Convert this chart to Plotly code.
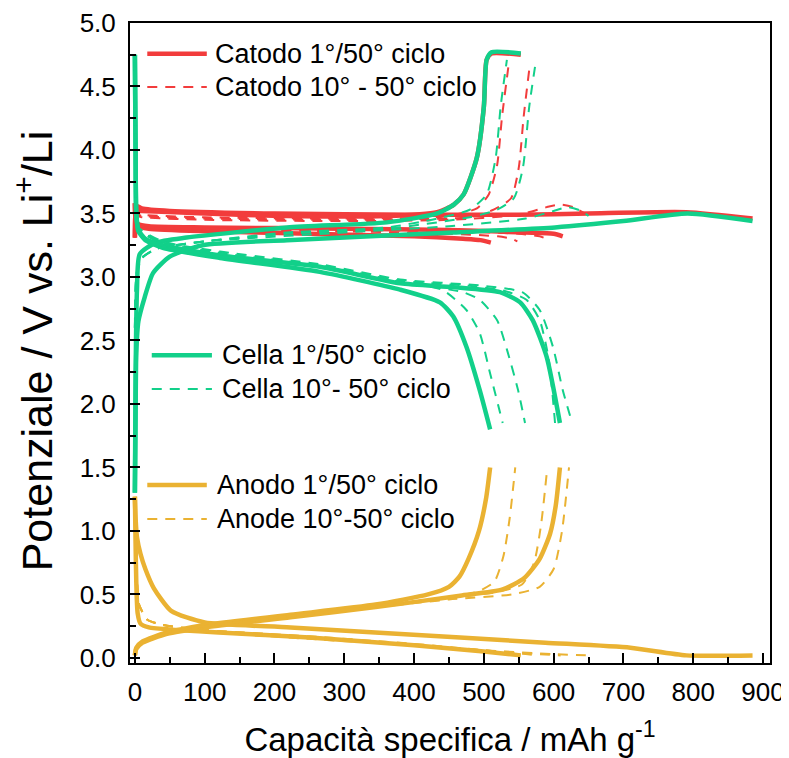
import plotly.graph_objects as go

RED = "#F23C3C"
GREEN = "#12D08A"
GOLD = "#EAB232"

# ---------------- Cathode (Catodo) ----------------
cat_ch1_x = [0, 1, 3, 10, 50, 200, 400, 550, 650, 790, 885]
cat_ch1_y = [3.31, 3.45, 3.56, 3.54, 3.52, 3.50, 3.49, 3.49, 3.50, 3.51, 3.46]
cat_ch50_x = [0, 2, 10, 100, 218, 360, 433, 457, 471, 490, 500, 504, 511, 553]
cat_ch50_y = [3.31, 3.52, 3.52, 3.50, 3.48, 3.48, 3.51, 3.57, 3.65, 3.94, 4.34, 4.71, 4.76, 4.75]
cat_dis1_x = [0, 1, 4, 20, 100, 250, 400, 470, 495, 510]
cat_dis1_y = [3.58, 3.45, 3.40, 3.38, 3.36, 3.34, 3.32, 3.30, 3.29, 3.27]
cat_dis2_x = [0, 1, 4, 20, 100, 300, 450, 560, 600, 613]
cat_dis2_y = [3.58, 3.46, 3.42, 3.40, 3.39, 3.38, 3.37, 3.35, 3.34, 3.32]

cat_dch_a_x = [0, 2, 10, 100, 300, 433, 457, 490, 507, 519, 526, 535]
cat_dch_a_y = [3.31, 3.50, 3.49, 3.47, 3.46, 3.47, 3.49, 3.54, 3.65, 3.88, 4.26, 4.65]
cat_dch_b_x = [0, 2, 10, 100, 300, 450, 480, 514, 539, 550, 557, 565]
cat_dch_b_y = [3.31, 3.49, 3.48, 3.46, 3.45, 3.46, 3.47, 3.53, 3.62, 3.86, 4.26, 4.63]
cat_dch_c_x = [0, 2, 10, 100, 300, 450, 550, 590, 610, 628, 645]
cat_dch_c_y = [3.31, 3.48, 3.47, 3.45, 3.44, 3.45, 3.49, 3.55, 3.57, 3.55, 3.50]
cat_ddis_a_x = [0, 1, 4, 20, 100, 300, 450, 520, 540, 548]
cat_ddis_a_y = [3.55, 3.45, 3.41, 3.39, 3.37, 3.36, 3.34, 3.32, 3.30, 3.28]
cat_ddis_b_x = [0, 1, 4, 20, 100, 300, 450, 550, 580, 590]
cat_ddis_b_y = [3.55, 3.45, 3.42, 3.40, 3.38, 3.37, 3.36, 3.34, 3.32, 3.30]

# ---------------- Cell (Cella) ----------------
cell_ch1_x = [0, 1, 2, 5, 14, 26, 50, 97, 218, 456, 602, 700, 792, 885]
cell_ch1_y = [1.30, 1.9, 2.4, 2.65, 2.84, 3.03, 3.16, 3.25, 3.29, 3.35, 3.39, 3.44, 3.50, 3.44]
cell_ch50_x = [0, 1, 3, 7, 30, 74, 218, 361, 433, 457, 471, 490, 500, 504, 511, 553]
cell_ch50_y = [1.30, 2.2, 2.9, 3.18, 3.27, 3.31, 3.39, 3.43, 3.50, 3.57, 3.65, 3.94, 4.34, 4.71, 4.77, 4.76]
cell_dis1_x = [0, 1, 2, 5, 15, 40, 122, 265, 380, 437, 456, 475, 494, 509]
cell_dis1_y = [4.75, 4.0, 3.5, 3.36, 3.29, 3.23, 3.15, 3.04, 2.90, 2.80, 2.69, 2.45, 2.11, 1.80]
cell_dis2_x = [0, 1, 2, 5, 15, 40, 122, 265, 380, 456, 523, 552, 570, 590, 609]
cell_dis2_y = [4.75, 4.0, 3.5, 3.37, 3.30, 3.25, 3.17, 3.08, 2.95, 2.92, 2.88, 2.80, 2.66, 2.37, 1.85]

cell_dch_a_x = [0, 2, 5, 10, 30, 100, 218, 361, 433, 480, 504, 517, 524, 533]
cell_dch_a_y = [2.6, 3.0, 3.1, 3.15, 3.22, 3.28, 3.35, 3.39, 3.46, 3.53, 3.65, 3.94, 4.34, 4.71]
cell_dch_b_x = [0, 2, 5, 10, 30, 100, 218, 361, 480, 519, 543, 556, 565, 574]
cell_dch_b_y = [2.6, 3.0, 3.1, 3.15, 3.22, 3.28, 3.34, 3.38, 3.47, 3.53, 3.62, 3.86, 4.34, 4.68]
cell_dch_c_x = [0, 2, 10, 30, 100, 300, 450, 560, 600, 620, 640, 650]
cell_dch_c_y = [2.6, 3.0, 3.15, 3.22, 3.28, 3.35, 3.40, 3.46, 3.52, 3.55, 3.52, 3.48]
cell_ddis_a_x = [0, 1, 2, 5, 40, 122, 265, 380, 440, 475, 494, 509, 527]
cell_ddis_a_y = [4.7, 4.0, 3.5, 3.38, 3.26, 3.18, 3.08, 2.96, 2.90, 2.74, 2.56, 2.24, 1.85]
cell_ddis_b_x = [0, 1, 2, 5, 40, 122, 265, 380, 470, 494, 519, 533, 549, 559]
cell_ddis_b_y = [4.7, 4.0, 3.5, 3.38, 3.26, 3.18, 3.08, 2.96, 2.88, 2.82, 2.66, 2.43, 2.11, 1.85]
cell_ddis_c_x = [0, 1, 2, 5, 40, 122, 265, 380, 480, 530, 561, 580, 593, 602]
cell_ddis_c_y = [4.7, 4.0, 3.5, 3.38, 3.27, 3.19, 3.09, 2.97, 2.93, 2.89, 2.82, 2.66, 2.35, 1.85]
cell_ddis_d_x = [0, 1, 2, 5, 40, 122, 265, 380, 500, 555, 580, 599, 613, 626]
cell_ddis_d_y = [4.7, 4.0, 3.5, 3.39, 3.28, 3.20, 3.10, 2.98, 2.93, 2.88, 2.74, 2.45, 2.11, 1.86]

# ---------------- Anode (Anodo) ----------------
an_li1_x = [0, 1, 3, 8, 15, 27, 52, 100, 223, 466, 588, 710, 790, 885]
an_li1_y = [1.27, 1.1, 0.95, 0.82, 0.70, 0.55, 0.37, 0.28, 0.24, 0.16, 0.12, 0.08, 0.02, 0.02]
an_li50_x = [0, 1, 2, 4, 8, 20, 60, 120, 250, 400, 500, 553]
an_li50_y = [1.27, 0.9, 0.6, 0.35, 0.27, 0.24, 0.22, 0.20, 0.16, 0.10, 0.05, 0.02]
an_de1_x = [0, 2, 11, 46, 100, 223, 345, 420, 450, 465, 478, 493, 503, 509]
an_de1_y = [0.02, 0.08, 0.13, 0.20, 0.26, 0.34, 0.42, 0.50, 0.56, 0.64, 0.78, 1.0, 1.25, 1.5]
an_de2_x = [0, 2, 11, 46, 100, 223, 345, 466, 527, 558, 580, 595, 603, 609]
an_de2_y = [0.02, 0.07, 0.12, 0.19, 0.24, 0.32, 0.40, 0.49, 0.54, 0.63, 0.78, 0.98, 1.2, 1.5]

an_dli_a_x = [0, 3, 6, 18, 40, 100, 250, 400, 500, 560, 580]
an_dli_a_y = [1.0, 0.6, 0.42, 0.30, 0.26, 0.22, 0.17, 0.11, 0.06, 0.03, 0.02]
an_dli_b_x = [0, 3, 6, 18, 40, 100, 250, 400, 500, 580, 610]
an_dli_b_y = [1.0, 0.6, 0.42, 0.30, 0.26, 0.22, 0.16, 0.10, 0.06, 0.03, 0.02]
an_dli_c_x = [0, 3, 6, 18, 40, 100, 250, 400, 500, 600, 650]
an_dli_c_y = [1.0, 0.6, 0.42, 0.30, 0.26, 0.21, 0.15, 0.10, 0.06, 0.03, 0.02]
an_dde_a_x = [0, 2, 11, 46, 100, 223, 345, 450, 490, 515, 528, 537, 545]
an_dde_a_y = [0.03, 0.08, 0.13, 0.20, 0.25, 0.33, 0.41, 0.48, 0.52, 0.60, 0.80, 1.10, 1.50]
an_dde_b_x = [0, 2, 11, 46, 100, 223, 345, 450, 520, 555, 572, 582, 590]
an_dde_b_y = [0.03, 0.08, 0.13, 0.20, 0.25, 0.33, 0.40, 0.47, 0.52, 0.58, 0.75, 1.05, 1.45]
an_dde_c_x = [0, 2, 11, 46, 100, 223, 345, 450, 540, 580, 600, 612, 622]
an_dde_c_y = [0.03, 0.08, 0.13, 0.20, 0.25, 0.33, 0.40, 0.46, 0.50, 0.56, 0.70, 1.00, 1.50]

x_tick_vals = [0, 100, 200, 300, 400, 500, 600, 700, 800, 900]
y_tick_vals = [0.0, 0.5, 1.0, 1.5, 2.0, 2.5, 3.0, 3.5, 4.0, 4.5, 5.0]

legend_labels = [
    ("Catodo 1°/50° ciclo", RED, "solid", 0.027, 0.120, 0.952, 0.130),
    ("Catodo 10° - 50° ciclo", RED, "dash", 0.027, 0.120, 0.900, 0.130),
    ("Cella 1°/50° ciclo", GREEN, "solid", 0.034, 0.128, 0.481, 0.141),
    ("Cella 10°- 50° ciclo", GREEN, "dash", 0.034, 0.128, 0.428, 0.141),
    ("Anodo 1°/50° ciclo", GOLD, "solid", 0.027, 0.120, 0.278, 0.133),
    ("Anode 10°-50° ciclo", GOLD, "dash", 0.027, 0.120, 0.225, 0.133),
]

SOLID_W = 4.5
DASH_W = 2.0
DASH = "10px,8px"

fig = go.Figure()


def add(x, y, color, dashed):
    fig.add_trace(go.Scatter(
        x=x, y=y, mode="lines", showlegend=False, hoverinfo="skip",
        line=dict(color=color, width=DASH_W if dashed else SOLID_W,
                  dash=DASH if dashed else "solid", shape="spline", smoothing=0.6)))


# anode
for xs, ys in [(an_li1_x, an_li1_y), (an_li50_x, an_li50_y), (an_de1_x, an_de1_y), (an_de2_x, an_de2_y)]:
    add(xs, ys, GOLD, False)
for xs, ys in [(an_dli_a_x, an_dli_a_y), (an_dli_b_x, an_dli_b_y), (an_dli_c_x, an_dli_c_y),
               (an_dde_a_x, an_dde_a_y), (an_dde_b_x, an_dde_b_y), (an_dde_c_x, an_dde_c_y)]:
    add(xs, ys, GOLD, True)
# cathode
for xs, ys in [(cat_ch1_x, cat_ch1_y), (cat_ch50_x, cat_ch50_y), (cat_dis1_x, cat_dis1_y), (cat_dis2_x, cat_dis2_y)]:
    add(xs, ys, RED, False)
for xs, ys in [(cat_dch_a_x, cat_dch_a_y), (cat_dch_b_x, cat_dch_b_y), (cat_dch_c_x, cat_dch_c_y),
               (cat_ddis_a_x, cat_ddis_a_y), (cat_ddis_b_x, cat_ddis_b_y)]:
    add(xs, ys, RED, True)
# cell
for xs, ys in [(cell_ch1_x, cell_ch1_y), (cell_ch50_x, cell_ch50_y), (cell_dis1_x, cell_dis1_y), (cell_dis2_x, cell_dis2_y)]:
    add(xs, ys, GREEN, False)
for xs, ys in [(cell_dch_a_x, cell_dch_a_y), (cell_dch_b_x, cell_dch_b_y), (cell_dch_c_x, cell_dch_c_y),
               (cell_ddis_a_x, cell_ddis_a_y), (cell_ddis_b_x, cell_ddis_b_y),
               (cell_ddis_c_x, cell_ddis_c_y), (cell_ddis_d_x, cell_ddis_d_y)]:
    add(xs, ys, GREEN, True)

FONT = "Liberation Sans, Arial, sans-serif"

# manual legend
for text, color, dash, x0, x1, yp, xt in legend_labels:
    fig.add_shape(type="line", xref="paper", yref="paper", x0=x0, x1=x1, y0=yp, y1=yp,
                  line=dict(color=color, width=SOLID_W if dash == "solid" else DASH_W,
                            dash="solid" if dash == "solid" else DASH))
    fig.add_annotation(xref="paper", yref="paper", x=xt, y=yp, text=text, showarrow=False,
                       xanchor="left", yanchor="middle", font=dict(size=27, color="black", family=FONT))

# y-axis title as a rotated annotation for exact placement
fig.add_annotation(xref="paper", yref="paper", x=-0.150, y=0.487, textangle=-90,
                   text="Potenziale / V vs. Li<sup>+</sup>/Li", showarrow=False,
                   xanchor="center", yanchor="middle", font=dict(size=43, color="black", family=FONT))

axis_common = dict(showline=True, linecolor="black", linewidth=2, mirror=True,
                   ticks="inside", tickcolor="black", tickwidth=2, ticklen=10,
                   showgrid=False, zeroline=False, automargin=False, ticklabeloverflow="allow",
                   tickfont=dict(size=26, color="black", family=FONT))

fig.update_xaxes(range=[-7, 910], tickvals=x_tick_vals, ticklabelstandoff=5,
                 minor=dict(dtick=50, ticks="inside", ticklen=6, tickcolor="black", tickwidth=2, showgrid=False),
                 title=dict(text="Capacità specifica / mAh g<sup>-1</sup>", standoff=34,
                            font=dict(size=33, color="black", family=FONT)),
                 **axis_common)
fig.update_yaxes(range=[-0.04, 5.0], tickvals=y_tick_vals, tickformat=".1f", ticklabelstandoff=7,
                 minor=dict(dtick=0.25, ticks="inside", ticklen=6, tickcolor="black", tickwidth=2, showgrid=False),
                 **axis_common)

# page body adds an 8px offset, so the figure is sized and margined to compensate
fig.update_layout(width=781, height=750, margin=dict(l=122, r=19, t=15, b=95),
                  plot_bgcolor="white", paper_bgcolor="white", showlegend=False,
                  font=dict(family=FONT, color="black"))

fig.write_html("out.html")
